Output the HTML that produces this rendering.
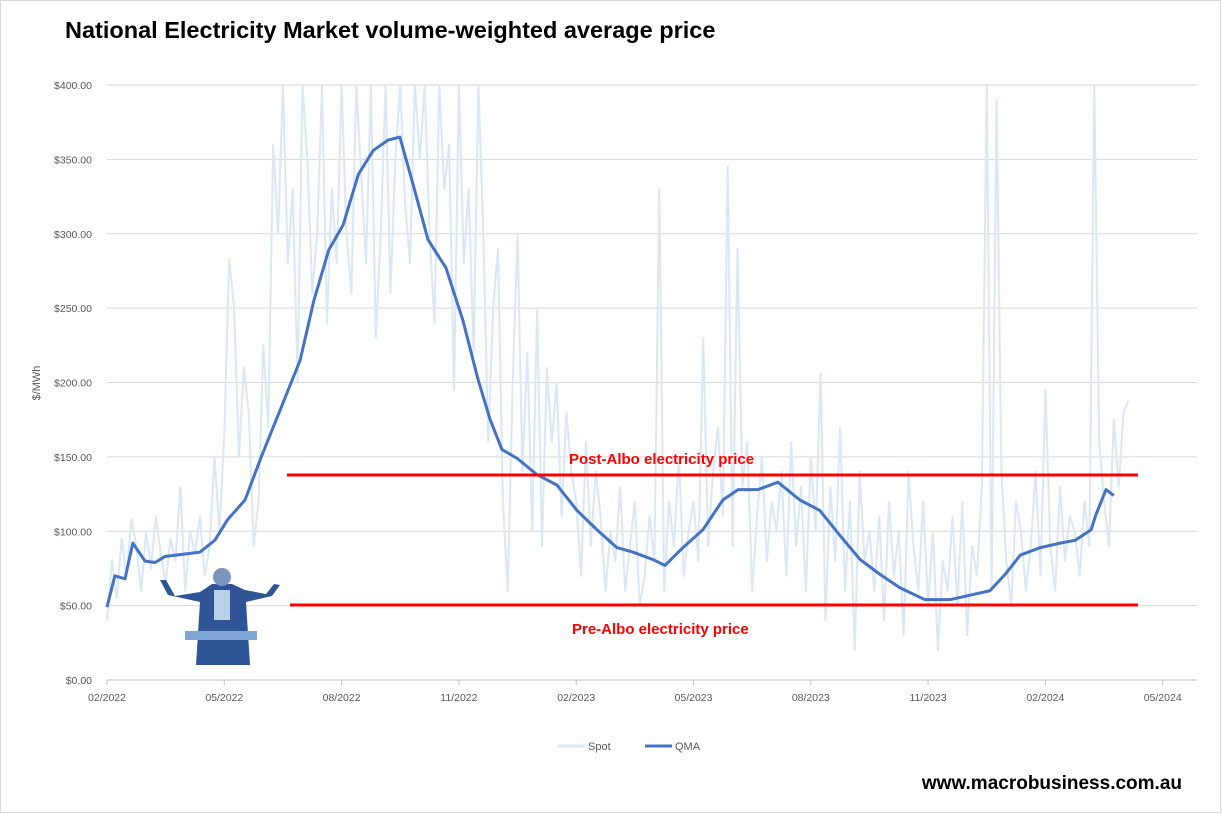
<!DOCTYPE html>
<html><head><meta charset="utf-8"><style>
body{margin:0;background:#fff;font-family:"Liberation Sans",sans-serif}
#wrap{position:relative;width:1222px;height:814px;overflow:hidden}
</style></head><body>
<div id="wrap">
<svg id="chart" width="1222" height="814" xmlns="http://www.w3.org/2000/svg">
<rect x="0.5" y="0.5" width="1220" height="812" fill="#fff" stroke="#d9d9d9"/>
<text x="65" y="38" font-size="23.5" font-weight="bold" fill="#000">National Electricity Market volume-weighted average price</text>
<g id="grid"></g><g id="spot"></g><g id="qma"></g><g id="axes"></g>
<text transform="translate(40,383) rotate(-90)" text-anchor="middle" font-size="11" fill="#595959">$/MWh</text>
<line x1="287" y1="475" x2="1138" y2="475" stroke="#ff0000" stroke-width="3"/>
<line x1="290" y1="605" x2="1138" y2="605" stroke="#ff0000" stroke-width="3"/>
<text x="569" y="464" font-size="15" font-weight="bold" fill="#ff0000">Post-Albo electricity price</text>
<text x="572" y="634" font-size="15" font-weight="bold" fill="#ff0000">Pre-Albo electricity price</text>
<g>
<path d="M160 580 L168 595 L200 602 L196 665 L250 665 L246 602 L272 596 L280 585 L274 584 L266 594 L245 590 L232 584 L212 584 L200 592 L175 596 L166 580 Z" fill="#2f5597"/>
<circle cx="222" cy="577" r="9" fill="#7a93bf"/>
<rect x="214" y="590" width="16" height="30" fill="#b8d0e8"/>
<rect x="185" y="631" width="72" height="9" fill="#7fa6d4"/>
</g>
<g>
<line x1="558" y1="746" x2="585" y2="746" stroke="#dae7f5" stroke-width="3"/>
<text x="588" y="750" font-size="11" fill="#595959">Spot</text>
<line x1="645" y1="746" x2="672" y2="746" stroke="#4472c4" stroke-width="3"/>
<text x="675" y="750" font-size="11" fill="#595959">QMA</text>
</g>
<text x="1182" y="789" text-anchor="end" font-size="19" font-weight="bold" fill="#000">www.macrobusiness.com.au</text>
</svg>
</div>
<script>
const xTickLabels=["02/2022","05/2022","08/2022","11/2022","02/2023","05/2023","08/2023","11/2023","02/2024","05/2024"];
const yTicks=[0,50,100,150,200,250,300,350,400];
const spotValues=[40,80,55,95,70,108,90,60,100,75,110,85,65,95,80,130,60,100,85,110,70,90,150,100,
165,283,250,150,210,180,90,120,
225,170,360,300,400,280,330,200,400,350,260,300,400,240,330,280,
400,300,260,400,340,280,400,230,300,400,260,350,400,320,280,400,
350,400,300,240,400,330,360,195,400,280,330,220,400,300,160,250,
290,120,60,200,300,140,220,100,250,90,210,160,200,110,180,140,
120,70,160,90,140,110,60,100,80,130,60,90,120,50,70,110,
80,330,60,120,90,150,70,100,120,80,230,90,140,170,110,345,
90,290,130,160,60,110,150,80,120,100,140,70,160,90,130,60,
150,100,206,40,130,80,170,60,120,20,140,80,100,60,110,40,
120,70,100,30,140,90,60,120,50,100,20,80,60,110,50,120,
30,90,70,130,400,60,390,140,80,50,120,100,60,90,140,70,
195,90,60,130,80,110,100,70,120,90,400,160,120,90,175,130,180,188];
const spotStep=0.125;
const qmaMonths=[0,0.2,0.46,0.66,0.97,1.23,1.48,2.38,2.76,3.09,3.53,3.96,4.42,4.94,5.29,5.67,6.04,6.43,6.81,7.19,7.49,7.83,8.21,8.67,9.1,9.49,9.8,10.1,10.49,11,11.51,12.02,12.53,13.04,13.45,13.96,14.27,14.73,15.24,15.75,16.14,16.65,17.16,17.72,18.23,18.75,19.26,19.77,20.28,20.92,21.56,22.07,22.58,22.97,23.36,23.87,24.38,24.77,25.17,25.29,25.55,25.75];
const qmaValues=[49,70,68,92,80,79,83,86,94,108,121,151,181,215,255,289,306,340,356,363,365,333,296,277,242,202,175,155,149,138,131,114,101,89,86,81,77,89,101,121,128,128,133,121,114,97,81,71,62,54,54,57,60,71,84,89,92,94,101,111,128,124];
const NS="http://www.w3.org/2000/svg";
const X0=107,PX_PER_MONTH=39.1,Y0=680,PX_PER_UNIT=595/400;
const xs=m=>X0+m*PX_PER_MONTH, ys=v=>Y0-Math.min(v,400)*PX_PER_UNIT;
function mk(tag,attrs,parent){const e=document.createElementNS(NS,tag);for(const k in attrs)e.setAttribute(k,attrs[k]);parent.appendChild(e);return e;}
const grid=document.getElementById('grid'),axes=document.getElementById('axes');
yTicks.forEach(v=>{
 const l=mk('line',{x1:X0,x2:1197,y1:ys(v),y2:ys(v),stroke:v===0?'#bfbfbf':'#d9d9d9','stroke-width':1},grid);
 
 
 const t=mk('text',{x:92,y:ys(v)+4,'text-anchor':'end','font-size':10.5,fill:'#595959'},axes);
 t.textContent='$'+v.toFixed(2);
 
 
});
xTickLabels.forEach((s,i)=>{
 const x=xs(i*3);
 const tk=mk('line',{x1:x,x2:x,y1:Y0,y2:Y0+5,stroke:'#bfbfbf'},axes);
 
 
 const t=mk('text',{x:x,y:701,'text-anchor':'middle','font-size':10.5,fill:'#595959'},axes);
 t.textContent=s;
 
 
});
const sp=mk('polyline',{points:spotValues.map((v,i)=>xs(i*spotStep)+','+ys(v)).join(' '),fill:'none',stroke:'#dae7f5','stroke-width':2,'stroke-linejoin':'round'},document.getElementById('spot'));


const q=mk('polyline',{points:qmaValues.map((v,i)=>xs(qmaMonths[i])+','+ys(v)).join(' '),fill:'none',stroke:'#4472c4','stroke-width':3,'stroke-linejoin':'round'},document.getElementById('qma'));


</script>
</body></html>
